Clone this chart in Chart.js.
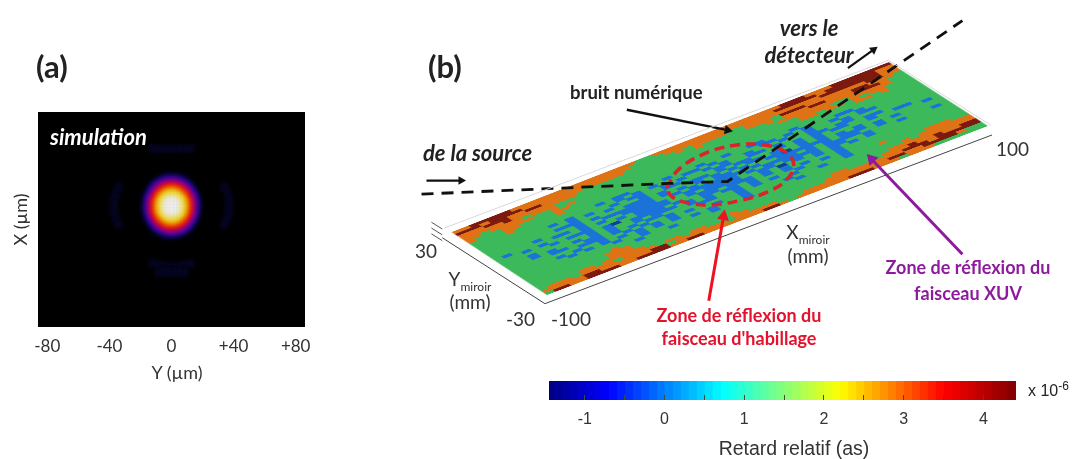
<!DOCTYPE html>
<html lang="fr">
<head>
<meta charset="utf-8">
<title>Retard relatif</title>
<script src="https://cdn.jsdelivr.net/npm/chart.js@4/dist/chart.umd.min.js"></script>
<style>
  html, body { margin: 0; background: #fff; }
  #page { position: relative; width: 1077px; height: 459px; overflow: hidden; font-family: Lato, "Open Sans", sans-serif; color: #222; }
  canvas { position: absolute; }
  #spotChart { left: 0; top: 100px; }
  #surfaceChart { left: 0; top: 0; transform-origin: 0 0; }
  #notesChart { left: 0; top: 0; }
  #barChart { left: 519px; top: 370px; }
  .t { position: absolute; white-space: nowrap; line-height: 1; }
  .c { transform: translateX(-50%); }
  .b { font-weight: 700; }
  .i { font-style: italic; font-weight: 700; }
  .red { color: #e3122d; font-weight: 700; font-size: 18px; }
  .pur { color: #8e1a9e; font-weight: 700; font-size: 18px; }
  .ax { font-size: 19px; color: #333; }
  sub { font-size: 12px; line-height: 0; }
</style>
</head>
<body>
<div id="page">
  <canvas id="spotChart" width="340" height="290"></canvas>
  <canvas id="surfaceChart" width="520" height="320"></canvas>
  <canvas id="barChart" width="527" height="89"></canvas>
  <canvas id="notesChart" width="1077" height="459"></canvas>

  <div class="t b" style="left:36px;top:51px;font-size:31px">(a)</div>
  <div class="t b" style="left:428px;top:51px;font-size:31px">(b)</div>
  <div class="t i" style="left:50px;top:126px;font-size:22px;color:#fff">simulation</div>
  <div class="t c" style="left:177px;top:363px;font-size:18px;color:#333">Y (µm)</div>

  <div class="t i" style="left:423px;top:142px;font-size:22px">de la source</div>
  <div class="t b" style="left:570px;top:83px;font-size:18.5px">bruit numérique</div>
  <div class="t i c" style="left:809px;top:17px;font-size:22px">vers le</div>
  <div class="t i c" style="left:809px;top:44px;font-size:22px">détecteur</div>

  <div class="t red c" style="left:739px;top:306px">Zone de réflexion du</div>
  <div class="t red c" style="left:739px;top:329px">faisceau d'habillage</div>
  <div class="t pur c" style="left:968px;top:258px">Zone de réflexion du</div>
  <div class="t pur c" style="left:968px;top:284px">faisceau XUV</div>

  <div class="t ax c" style="left:808px;top:222px">X<sub>miroir</sub></div>
  <div class="t ax c" style="left:808px;top:246px">(mm)</div>
  <div class="t ax c" style="left:470px;top:269px">Y<sub>miroir</sub></div>
  <div class="t ax c" style="left:470px;top:292px">(mm)</div>
  <div class="t ax" style="left:996px;top:139px">100</div>
  <div class="t ax" style="left:415px;top:241px">30</div>
  <div class="t ax" style="left:506px;top:309px">-30</div>
  <div class="t ax" style="left:551px;top:309px">-100</div>
  <div class="t" style="left:1028px;top:383px;font-size:16px;font-family:'Liberation Sans'">x 10<sup style="font-size:12px;line-height:0">-6</sup></div>
  <div class="t c" style="left:794px;top:439px;font-size:19.5px;color:#333;font-family:'Liberation Sans'">Retard relatif (as)</div>
</div>

<script>
'use strict';

// Panel (a): focal spot intensity, rows from top to bottom
const spotX = [-18.4, -16.1, -13.8, -11.5, -9.2, -6.9, -4.6, -2.3, 0, 2.3, 4.6, 6.9, 9.2, 11.5, 13.8, 16.1, 18.4];
const spotY = [21, 18.9, 16.8, 14.7, 12.6, 10.5, 8.4, 6.3, 4.2, 2.1, 0, -2.1, -4.2, -6.3, -8.4, -10.5, -12.6, -14.7, -16.8, -18.9, -21];
const spotRows = [
  [0, 0, 0, 0, 0, 1, 2, 3, 3, 3, 2, 1, 0, 0, 0, 0, 0],
  [0, 0, 0, 1, 2, 5, 9, 11, 12, 11, 9, 5, 2, 1, 0, 0, 0],
  [0, 0, 1, 3, 9, 15, 23, 29, 31, 29, 23, 15, 9, 3, 1, 0, 0],
  [0, 0, 3, 11, 21, 33, 43, 47, 49, 47, 43, 33, 21, 11, 3, 0, 0],
  [0, 2, 8, 21, 37, 49, 58, 63, 64, 63, 58, 49, 37, 21, 8, 2, 0],
  [0, 4, 15, 33, 51, 62, 69, 74, 76, 74, 69, 62, 51, 33, 15, 4, 0],
  [2, 9, 25, 45, 62, 71, 79, 85, 85, 85, 79, 71, 62, 45, 25, 9, 2],
  [3, 13, 35, 55, 68, 79, 87, 90, 91, 90, 87, 79, 68, 55, 35, 13, 3],
  [4, 19, 41, 60, 74, 85, 91, 95, 96, 95, 91, 85, 74, 60, 41, 19, 4],
  [6, 21, 45, 63, 76, 87, 93, 97, 98, 97, 93, 87, 76, 63, 45, 21, 6],
  [6, 23, 45, 64, 78, 88, 94, 98, 100, 98, 94, 88, 78, 64, 45, 23, 6],
  [6, 21, 45, 63, 76, 87, 93, 97, 98, 97, 93, 87, 76, 63, 45, 21, 6],
  [4, 19, 41, 60, 74, 85, 91, 95, 96, 95, 91, 85, 74, 60, 41, 19, 4],
  [3, 13, 35, 55, 68, 79, 87, 90, 91, 90, 87, 79, 68, 55, 35, 13, 3],
  [2, 9, 25, 45, 62, 71, 79, 85, 85, 85, 79, 71, 62, 45, 25, 9, 2],
  [0, 4, 15, 33, 51, 62, 69, 74, 76, 74, 69, 62, 51, 33, 15, 4, 0],
  [0, 2, 8, 21, 37, 49, 58, 63, 64, 63, 58, 49, 37, 21, 8, 2, 0],
  [0, 0, 3, 11, 21, 33, 43, 47, 49, 47, 43, 33, 21, 11, 3, 0, 0],
  [0, 0, 1, 3, 9, 15, 23, 29, 31, 29, 23, 15, 9, 3, 1, 0, 0],
  [0, 0, 0, 1, 2, 5, 9, 11, 12, 11, 9, 5, 2, 1, 0, 0, 0],
  [0, 0, 0, 0, 0, 1, 2, 3, 3, 3, 2, 1, 0, 0, 0, 0, 0]
];
// faint side lobes around the spot, [y um, x um]
const lobeCells = [
  [-34, 12], [-36, 8], [-37, 4], [-37, 0], [-37, -4], [-36, -8], [-34, -12],
  [34, 12], [36, 8], [37, 4], [37, 0], [37, -4], [36, -8], [34, -12],
  [-12, 37], [-8, 37], [-4, 37], [0, 37], [4, 37], [8, 37], [12, 37],
  [-12, -37], [-8, -38], [-4, -39], [0, -39], [4, -39], [8, -38], [12, -37],
  [-8, -43], [-4, -43], [0, -43], [4, -43], [8, -43]
];
const spotTicks = [-80, -40, 0, 40, 80];

// Panel (b): mirror surface, one letter per cell, far edge (Y=+30) first
const surfaceRows = [
  'oodddddooo oooooooooo oo..oooooo oooooooood ddoooddddd dd',
  'dddoddddoo oooooooooo o....ooooo oooooooodd dddodddddd oo',
  'ooodddoodd ooooo.oooo ......o.oo oo..oooooo oooddddddd oo',
  'ooooodoooo oooo...... ........o. ....ooo.dd dooooooodd oo',
  'oo.oooo.oo o......... .......... ......o.oo oddoooddoo o.',
  'o...oooo.. o.o....... .......... .......ooo oooooodddo ..',
  '....oo.... oo........ .......... .........o ooo..ooooo ..',
  '....o..... o......... .......... .........o o.oo.o.oo. ..',
  '.......... .......... .......... .......... .....oo.o. ..',
  '.......... ....b.bb.. ..b...b..b ..bb...b.. .......... ..',
  '........b. b.....b.b. b...bb.b.. ...bb.b.b. ..bb...... ..',
  '.......... b.b..b.bb. .b.b..b.b. .b...b..b. .b..b..... ..',
  '........bb b...b...b. .bb....bb. .bb.b...b. ..b.bb.... ..',
  '.....b.... b.b...bbb. b...bb.b.b b...b.b.bb .bb....... ..',
  '.b.....bb. b..bbbbbb. b.b.b.b.b. bb.b..b.b. bb..bb.... ..',
  '...b.b.... b.b..bbbb. .b.b..bb.b ..bbn.b.b. ....b..bb. ..',
  '......b.bb b...b.bbbb ..bbbbbbb. b..bbbbbb. b.b....... b.',
  '...b...... b.bn..bbbb ..b.bbbb.b .bbbb.b.b. bbb.b.b... ..',
  '...b.b..b. b.b..bbbb. b..bbbbb.. bb.bbbb.bb bb..b..... ..',
  '.....bb..b b.b..b.bbb .b.bb.bbb. b.n.b.b.bb ..b...b... b.',
  '........bb b.b.b.bb.. .b.b.bb.b. b.b...b.b. b.b....... ..',
  '.....b.b.. b..b.b..b. ..bb..b.b. ..b.b...b. .......... ..',
  '......b.b. b.b.b.b.b. b.....b.b. b..b..b.b. .......... ..',
  '.......... .b..b.b.b. ...b..b... ..b.....b. .......... ..',
  '.......... ....b..... b.b...b... .b...b..b. ..o....... ..',
  '.......... o..b...b.. ..b...b... ..b....... .......ooo ..',
  '.........o oo........ .......... .......... ....o.oooo oo',
  '.........o oo........ .......... .......... ..oooooooo oo',
  '.....oo.oo ooo....... ...o...... .....oo... .ooodoodoo dd',
  '.ooo.oooo. oooo.oo.oo ...oo..... ....oooooo ooodddoddd dd',
  'oooooddooo ooodd.oooo oo.ooooo.. .ooooooooo oddooddddo ..',
  '.ddooddddo oddddooddo ooooooddo. oooooodddo oo.ooo.... ..'
];
const surfaceLevels = ['n', 'b', '.', 'o', 'd'];

// Colour bar
const barBands = [
  -1.4, -1.3, -1.2, -1.1, -1, -0.9, -0.8, -0.7, -0.6, -0.5, -0.4, -0.3, -0.2, -0.1, 0,
  0.1, 0.2, 0.3, 0.4, 0.5, 0.6, 0.7, 0.8, 0.9, 1, 1.1, 1.2, 1.3, 1.4, 1.5,
  1.6, 1.7, 1.8, 1.9, 2, 2.1, 2.2, 2.3, 2.4, 2.5, 2.6, 2.7, 2.8, 2.9, 3,
  3.1, 3.2, 3.3, 3.4, 3.5, 3.6, 3.7, 3.8, 3.9, 4, 4.1, 4.2, 4.3, 4.4
];
const barTicks = [-1, -0.5, 0, 0.5, 1, 1.5, 2, 2.5, 3, 3.5, 4];

const levelColors = { n: '#10409a', b: '#1b72d8', '.': '#3cb95a', o: '#e07216', d: '#7d1a10' };
const hotStops = [[0, [0, 0, 0]], [5, [8, 8, 50]], [15, [40, 10, 170]], [35, [140, 0, 170]], [54, [235, 0, 40]], [66, [255, 70, 0]], [82, [255, 225, 0]], [97, [255, 255, 255]], [100, [255, 255, 255]]];
const jetStops = [[-1.45, [0, 0, 130]], [-0.72, [0, 0, 255]], [0.72, [0, 255, 255]], [2.2, [255, 255, 0]], [3.5, [255, 0, 0]], [4.41, [128, 0, 0]]];

function mix(stops, v) {
  for (let i = 1; i < stops.length; i++) {
    if (v <= stops[i][0]) {
      const t = (v - stops[i - 1][0]) / (stops[i][0] - stops[i - 1][0]);
      const a = stops[i - 1][1];
      const b = stops[i][1];
      return `rgb(${a.map((c, k) => Math.round(c + (b[k] - c) * t)).join(',')})`;
    }
  }
  return `rgb(${stops[stops.length - 1][1].join(',')})`;
}

Chart.defaults.animation = false;
Chart.defaults.plugins.legend.display = false;
Chart.defaults.plugins.tooltip.enabled = false;
Chart.defaults.events = [];

const blackPlot = {
  id: 'blackPlot',
  beforeDraw(chart) {
    const a = chart.chartArea;
    chart.ctx.fillStyle = '#000';
    chart.ctx.fillRect(a.left, a.top, a.width, a.height);
  },
  beforeDatasetsDraw(chart) {
    chart.ctx.save();
    chart.ctx.filter = 'blur(1.5px)';
  },
  afterDatasetsDraw(chart) {
    chart.ctx.restore();
  }
};

// one point per cell, coolest first so the hot centre stays on top
const spotCells = [];
spotRows.forEach((row, j) => row.forEach((v, i) => {
  if (v > 0) spotCells.push({ x: spotX[i], y: spotY[j], v: v });
}));
spotCells.sort((a, b) => a.v - b.v);

new Chart(document.getElementById('spotChart'), {
  type: 'scatter',
  plugins: [blackPlot],
  data: {
    datasets: [
      {
        data: lobeCells.map(c => ({ x: c[0], y: c[1] })),
        pointStyle: 'rect',
        pointRadius: 6,
        borderWidth: 0,
        pointBackgroundColor: '#04041f'
      },
      {
        data: spotCells,
        pointStyle: 'rect',
        pointRadius: 3.3,
        borderWidth: 0,
        pointBackgroundColor: ctx => mix(hotStops, ctx.raw.v)
      }
    ]
  },
  options: {
    responsive: false,
    layout: { padding: { top: 12, right: 35 } },
    scales: {
      x: {
        min: -86,
        max: 86,
        grid: { display: false },
        border: { display: false },
        afterBuildTicks: s => { s.ticks = spotTicks.map(v => ({ value: v })); },
        afterFit: s => { s.height = 63; },
        ticks: {
          padding: 1,
          maxRotation: 0,
          color: '#333',
          font: { family: 'Lato', size: 17 },
          callback: v => (v > 0 ? '+' + v : String(v))
        }
      },
      y: {
        min: -78,
        max: 60.6,
        grid: { display: false },
        border: { display: false },
        ticks: { display: false },
        afterFit: s => { s.width = 38; },
        title: { display: true, text: 'X (µm)', color: '#333', padding: { top: 10, bottom: 0 }, font: { family: 'Lato', size: 18 } }
      }
    }
  }
});

// surface cells in mirror millimetres
const cols = 52;
const rows = surfaceRows.length;
const surfaceChart = new Chart(document.getElementById('surfaceChart'), {
  type: 'scatter',
  data: {
    datasets: surfaceLevels.map(level => {
      const cells = [];
      surfaceRows.forEach((text, j) => {
        const row = text.replace(/ /g, '');
        for (let i = 0; i < cols; i++) {
          if (row.charAt(i) === level) {
            cells.push({ x: -100 + (i + 0.5) * 200 / cols, y: 30 - (j + 0.5) * 60 / rows });
          }
        }
      });
      return {
        data: cells,
        pointStyle: 'rect',
        pointRadius: 7.4,
        borderWidth: 0,
        pointBackgroundColor: levelColors[level],
        clip: 0
      };
    })
  },
  options: {
    responsive: false,
    layout: { padding: 0 },
    scales: {
      x: { display: false, min: -100, max: 100 },
      y: { display: false, min: -30, max: 30 }
    }
  }
});

// Lay the flat surface chart onto the picture's tilted quadrilateral
function quadMatrix(w, h, q) {
  const [x0, y0] = q[0], [x1, y1] = q[1], [x2, y2] = q[2], [x3, y3] = q[3];
  const dx1 = x1 - x2, dx2 = x3 - x2, sx = x0 - x1 + x2 - x3;
  const dy1 = y1 - y2, dy2 = y3 - y2, sy = y0 - y1 + y2 - y3;
  const den = dx1 * dy2 - dx2 * dy1;
  const g = (sx * dy2 - dx2 * sy) / den;
  const k = (dx1 * sy - sx * dy1) / den;
  const a = x1 - x0 + g * x1, b = x3 - x0 + k * x3;
  const d = y1 - y0 + g * y1, e = y3 - y0 + k * y3;
  return `matrix3d(${a / w},${d / w},0,${g / w},${b / h},${e / h},0,${k / h},0,0,1,0,${x0},${y0},0,1)`;
}
surfaceChart.canvas.style.transform = quadMatrix(520, 320, [[443, 233], [893, 58], [997, 125], [543, 299]]);

// Colour bar
new Chart(document.getElementById('barChart'), {
  type: 'bar',
  data: {
    labels: [''],
    datasets: barBands.map((v, i) => ({
      data: [[i === 0 ? -1.45 : barBands[i - 1] - 0.02, i === barBands.length - 1 ? 4.41 : v]],
      backgroundColor: mix(jetStops, v - 0.05),
      borderWidth: 0,
      grouped: false,
      barPercentage: 1,
      categoryPercentage: 1
    }))
  },
  options: {
    indexAxis: 'y',
    responsive: false,
    layout: { padding: { left: 30, right: 30, top: 11 } },
    scales: {
      y: { display: false },
      x: {
        min: -1.45,
        max: 4.41,
        grid: { drawOnChartArea: false, tickLength: -5, color: '#3a5030', z: 1 },
        border: { display: false },
        afterBuildTicks: s => { s.ticks = barTicks.map(v => ({ value: v })); },
        afterFit: s => { s.height = 59; },
        ticks: {
          padding: 15,
          autoSkip: false,
          maxRotation: 0,
          color: '#333',
          font: { family: 'Liberation Sans', size: 16 },
          callback: v => (Number.isInteger(v) ? String(v) : '')
        }
      }
    }
  }
});

// Beam, arrows and axis box drawn over the surface, in page pixels
function stroke(points, color, width, dash) {
  return {
    data: points.map(p => ({ x: p[0], y: p[1] })),
    showLine: true,
    borderColor: color,
    borderWidth: width,
    borderDash: dash || [],
    pointRadius: 0
  };
}
function arrow(from, to, color, width, head) {
  const angle = Math.atan2(to[0] - from[0], from[1] - to[1]) * 180 / Math.PI;
  return Object.assign(stroke([from, to], color, width), {
    pointStyle: 'triangle',
    pointRadius: [0, head],
    pointRotation: [0, angle],
    pointBackgroundColor: color,
    pointBorderColor: color,
    pointBorderWidth: 0
  });
}

const notesData = [
  stroke([[443, 228], [893, 55], [997, 122]], '#d8d8d8', 1),
  stroke([[441, 238], [545, 306], [998, 132]], '#444', 1),
  stroke([[430, 222], [441, 229]], '#555', 1),
  stroke([[430, 228], [441, 235]], '#555', 1),
  stroke([[430, 234], [441, 241]], '#555', 1),
  stroke([[420, 193], [670, 182], [730, 180], [968, 14]], '#111', 2.8, [12, 8]),
  Object.assign(stroke([[668, 187], [680, 168], [705, 152], [735, 143], [765, 142], [788, 149], [797, 162], [790, 178], [770, 191], [745, 199], [715, 204], [690, 202], [674, 196], [668, 187]], '#e0202a', 3.5, [10, 6]), { tension: 0.4 }),
  arrow([425, 179], [460, 179], '#111', 2.2, 5),
  arrow([852, 63], [878, 44], '#111', 2.2, 5),
  arrow([628, 106], [730, 127], '#111', 2.4, 5.5),
  arrow([711, 303], [726, 216], '#f01020', 3, 7),
  arrow([968, 255], [876, 157], '#8e1a9e', 3, 7)
];

new Chart(document.getElementById('notesChart'), {
  type: 'scatter',
  data: { datasets: notesData },
  options: {
    responsive: false,
    layout: { padding: 0 },
    scales: {
      x: { display: false, min: 0, max: 1077 },
      y: { display: false, min: 0, max: 459, reverse: true }
    }
  }
});
</script>
</body>
</html>
